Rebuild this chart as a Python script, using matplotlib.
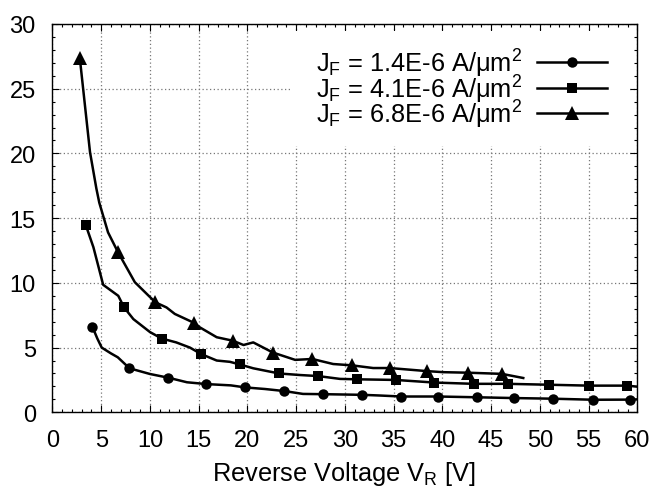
import matplotlib
matplotlib.use("Agg")
import matplotlib.pyplot as plt
from matplotlib.patches import Rectangle
from matplotlib.ticker import MultipleLocator

plt.rcParams['font.family'] = ['Liberation Sans', 'DejaVu Sans']
plt.rcParams['mathtext.default'] = 'regular'

# J_F = 1.4E-6 A/um^2 (circles)
v1_line = [4.1, 4.6, 5.05, 6.0, 6.7, 7.9, 10.0, 11.9, 13.8, 15.8, 18.3, 19.8, 21.8, 23.8, 25.7,
           27.8, 30.2, 31.8, 33.5, 35.8, 39.6, 43.6, 47.4, 51.4, 55.5, 59.3, 60.0]
y1_line = [6.6, 5.7, 5.0, 4.55, 4.25, 3.4, 2.96, 2.67, 2.32, 2.18, 2.08, 1.92, 1.8, 1.64, 1.42,
           1.4, 1.37, 1.35, 1.3, 1.22, 1.22, 1.16, 1.1, 1.05, 0.97, 0.98, 1.0]
v1_pts = [4.1, 7.9, 11.9, 15.8, 19.8, 23.8, 27.8, 31.8, 35.8, 39.6, 43.6, 47.4, 51.4, 55.5, 59.3]
y1_pts = [6.6, 3.4, 2.67, 2.18, 1.92, 1.64, 1.4, 1.35, 1.22, 1.22, 1.16, 1.1, 1.05, 0.97, 0.98]

# J_F = 4.1E-6 A/um^2 (squares)
v2_line = [3.4, 4.2, 5.2, 6.75, 7.35, 8.3, 10.0, 11.2, 12.7, 14.1, 15.25, 16.85, 18.2, 19.2,
           20.6, 23.25, 25.4, 27.25, 29.5, 31.2, 35.2, 39.15, 43.2, 46.7, 50.9, 55.05, 58.95, 60.0]
y2_line = [14.5, 12.75, 9.85, 9.0, 8.1, 7.2, 6.2, 5.7, 5.4, 5.0, 4.5, 4.0, 3.9, 3.7,
           3.4, 3.0, 2.88, 2.8, 2.58, 2.55, 2.5, 2.3, 2.2, 2.2, 2.13, 2.06, 2.06, 1.98]
v2_pts = [3.4, 7.35, 11.2, 15.25, 19.2, 23.25, 27.25, 31.2, 35.2, 39.15, 43.2, 46.7, 50.9, 55.05, 58.95]
y2_pts = [14.5, 8.1, 5.7, 4.5, 3.7, 3.0, 2.8, 2.55, 2.5, 2.3, 2.2, 2.2, 2.13, 2.06, 2.06]

# J_F = 6.8E-6 A/um^2 (triangles)
v3_line = [2.8, 3.85, 4.5, 4.8, 5.7, 6.7, 8.45, 10.55, 11.7, 12.55, 14.55, 15.1, 16.85, 18.5,
           19.6, 20.6, 22.6, 24.9, 26.65, 28.8, 30.7, 32.9, 34.6, 38.45, 40.1, 42.6, 46.1, 48.3]
y3_line = [27.4, 20.1, 17.3, 16.2, 13.9, 12.4, 10.05, 8.5, 8.1, 7.6, 6.9, 6.57, 5.8, 5.53,
           5.2, 5.4, 4.62, 4.05, 4.12, 3.73, 3.63, 3.42, 3.42, 3.18, 3.1, 3.06, 2.97, 2.65]
v3_pts = [2.8, 6.7, 10.55, 14.55, 18.5, 22.6, 26.65, 30.7, 34.6, 38.45, 42.6, 46.1]
y3_pts = [27.4, 12.4, 8.5, 6.9, 5.53, 4.62, 4.12, 3.63, 3.42, 3.18, 3.06, 2.97]

labels = ['J$_F$ = 1.4E-6 A/μm$^2$',
          'J$_F$ = 4.1E-6 A/μm$^2$',
          'J$_F$ = 6.8E-6 A/μm$^2$']
series = [
    (v1_line, y1_line, v1_pts, y1_pts, 'o', 7.5),
    (v2_line, y2_line, v2_pts, y2_pts, 's', 7.5),
    (v3_line, y3_line, v3_pts, y3_pts, '^', 10),
]

fig = plt.figure(figsize=(6.56, 4.89), dpi=100)
ax = fig.add_axes([0.080, 0.1548, 0.8915, 0.7941])

ax.set_xlim(0, 60)
ax.set_ylim(0, 30)
ax.xaxis.set_major_locator(MultipleLocator(5))
ax.xaxis.set_minor_locator(MultipleLocator(1))
ax.yaxis.set_major_locator(MultipleLocator(5))
ax.yaxis.set_minor_locator(MultipleLocator(1))
ax.tick_params(which='both', direction='in', top=True, right=True, width=0.8,
               labelsize=17, pad=12)
ax.tick_params(which='major', length=4.8)
ax.tick_params(which='minor', length=2.4)
for s in ax.spines.values():
    s.set_linewidth(1.0)

ax.set_axisbelow(True)
ax.grid(True, which='major', color='#777777', linestyle=(0, (1, 2)), linewidth=0.9)

# white key area that hides the grid behind the labels
ax.add_patch(Rectangle((0.4095, 0.686), 0.5745, 0.296, transform=ax.transAxes,
                       facecolor='white', edgecolor='none', zorder=1))

for vl, yl, vp, yp, mk, ms in series:
    ax.plot(vl, yl, color='black', lw=1.8, zorder=3)
    ax.plot(vp, yp, linestyle='none', marker=mk, ms=ms, color='black', mew=0, zorder=4)

# key: text right-aligned, sample line with marker on the right
key_base = [0.878, 0.811, 0.746]
key_mid = [0.901, 0.834, 0.770]
for (vl, yl, vp, yp, mk, ms), lab, yb, ym in zip(series, labels, key_base, key_mid):
    ax.text(0.803, yb, lab, transform=ax.transAxes, ha='right', va='baseline',
            fontsize=18.3, zorder=5)
    ax.plot([0.8285, 0.9482], [ym, ym], transform=ax.transAxes, color='black',
            lw=1.8, zorder=5, clip_on=False)
    ax.plot([0.888], [ym], transform=ax.transAxes, marker=mk, ms=ms, color='black',
            mew=0, zorder=6, linestyle='none')

fig.text(0.524, 0.0155, 'Reverse Voltage V$_R$ [V]', ha='center', va='baseline', fontsize=18.3)

fig.savefig('out.png', dpi=100)
